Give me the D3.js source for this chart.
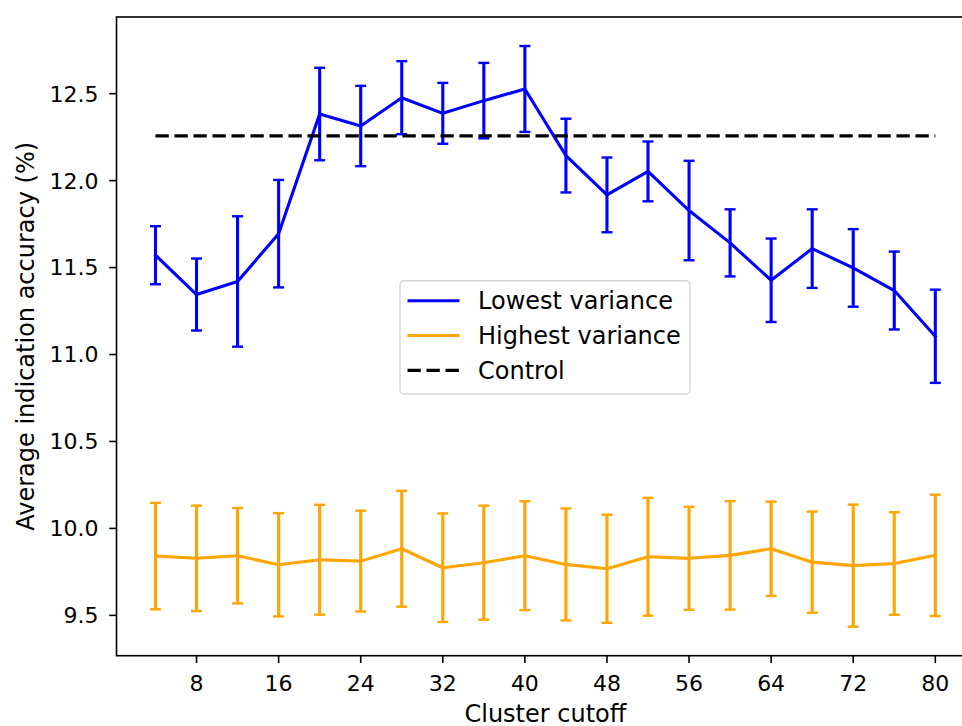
<!DOCTYPE html>
<html>
<head>
<meta charset="utf-8">
<script src="https://cdn.jsdelivr.net/npm/d3@7"></script>
<style>
  html, body { margin: 0; padding: 0; background: #fff; }
  svg { display: block; }
  text { font-family: "DejaVu Sans", sans-serif; fill: #000; }
</style>
</head>
<body>
<svg id="chart" width="962" height="726"></svg>
<script>
// ---- data ----
const cutoffs = [4, 8, 12, 16, 20, 24, 28, 32, 36, 40, 44, 48, 52, 56, 60, 64, 68, 72, 76, 80];
const lowestMean = [11.571, 11.345, 11.420, 11.695, 12.383, 12.314, 12.477, 12.387, 12.460, 12.527,
                    12.144, 11.918, 12.053, 11.828, 11.642, 11.427, 11.609, 11.498, 11.368, 11.105];
const lowestErr  = [0.167, 0.207, 0.375, 0.309, 0.266, 0.231, 0.210, 0.175, 0.217, 0.247,
                    0.212, 0.215, 0.172, 0.286, 0.193, 0.240, 0.226, 0.223, 0.224, 0.268];
const highestMean = [9.841, 9.828, 9.843, 9.791, 9.820, 9.812, 9.883, 9.774, 9.803, 9.843,
                     9.793, 9.768, 9.837, 9.828, 9.845, 9.883, 9.806, 9.786, 9.798, 9.845];
const highestErr  = [0.306, 0.303, 0.274, 0.297, 0.316, 0.290, 0.333, 0.312, 0.328, 0.313,
                     0.322, 0.311, 0.339, 0.296, 0.312, 0.271, 0.291, 0.351, 0.295, 0.349];
const controlValue = 12.257;
const xTicks = [8, 16, 24, 32, 40, 48, 56, 64, 72, 80];
const yTicks = [9.5, 10.0, 10.5, 11.0, 11.5, 12.0, 12.5];
const seriesNames = ["Lowest variance", "Highest variance", "Control"];

// ---- layout ----
const svg = d3.select("#chart");
const mLeft = 116.5, mRight = 974.3, mTop = 17, mBottom = 655.7;
const tickFont = 22, labelFont = 24;

const xExt = d3.extent(cutoffs);
const xPad = (xExt[1] - xExt[0]) * 0.05;
const x = d3.scaleLinear().domain([xExt[0] - xPad, xExt[1] + xPad]).range([mLeft, mRight]);

const allLo = lowestMean.map((m, i) => m - lowestErr[i]).concat(highestMean.map((m, i) => m - highestErr[i]));
const allHi = lowestMean.map((m, i) => m + lowestErr[i]).concat(highestMean.map((m, i) => m + highestErr[i]));
const yMin = d3.min(allLo), yMax = d3.max(allHi);
const yPad = (yMax - yMin) * 0.05;
const y = d3.scaleLinear().domain([yMin - yPad, yMax + yPad]).range([mBottom, mTop]);

const series = [
  { name: seriesNames[0], color: "#0000ff", mean: lowestMean, err: lowestErr },
  { name: seriesNames[1], color: "#ffa500", mean: highestMean, err: highestErr }
];

const lw = 3.1;
const capHalf = 5.5;
const line = d3.line().x(d => x(d[0])).y(d => y(d[1]));

series.forEach(s => {
  const g = svg.append("g");
  const pts = cutoffs.map((c, i) => [c, s.mean[i], s.err[i]]);
  g.selectAll("line.bar").data(pts).join("line")
    .attr("x1", d => x(d[0])).attr("x2", d => x(d[0]))
    .attr("y1", d => y(d[1] - d[2])).attr("y2", d => y(d[1] + d[2]))
    .attr("stroke", s.color).attr("stroke-width", lw);
  g.selectAll("line.capt").data(pts).join("line")
    .attr("x1", d => x(d[0]) - capHalf).attr("x2", d => x(d[0]) + capHalf)
    .attr("y1", d => y(d[1] + d[2])).attr("y2", d => y(d[1] + d[2]))
    .attr("stroke", s.color).attr("stroke-width", 2.4);
  g.selectAll("line.capb").data(pts).join("line")
    .attr("x1", d => x(d[0]) - capHalf).attr("x2", d => x(d[0]) + capHalf)
    .attr("y1", d => y(d[1] - d[2])).attr("y2", d => y(d[1] - d[2]))
    .attr("stroke", s.color).attr("stroke-width", 2.4);
  g.append("path").datum(pts).attr("d", line)
    .attr("fill", "none").attr("stroke", s.color).attr("stroke-width", lw)
    .attr("stroke-linejoin", "round").attr("stroke-linecap", "square");
});

// control
svg.append("line")
  .attr("x1", x(cutoffs[0])).attr("x2", x(cutoffs[cutoffs.length - 1]))
  .attr("y1", y(controlValue)).attr("y2", y(controlValue))
  .attr("stroke", "#000").attr("stroke-width", 3.3)
  .attr("stroke-dasharray", "13.3,5.7");

// spines
svg.append("rect").attr("x", mLeft).attr("y", mTop)
  .attr("width", mRight - mLeft).attr("height", mBottom - mTop)
  .attr("fill", "none").attr("stroke", "#000").attr("stroke-width", 1.6);

// x axis
const xAxis = svg.append("g");
xTicks.forEach(t => {
  xAxis.append("line").attr("x1", x(t)).attr("x2", x(t))
    .attr("y1", mBottom).attr("y2", mBottom + 7.3)
    .attr("stroke", "#000").attr("stroke-width", 1.6);
  xAxis.append("text").attr("x", x(t)).attr("y", mBottom + 35.3)
    .attr("text-anchor", "middle").attr("font-size", tickFont).text(d3.format("d")(t));
});
svg.append("text").attr("x", (mLeft + mRight) / 2).attr("y", 721.5)
  .attr("text-anchor", "middle").attr("font-size", labelFont).text("Cluster cutoff");

// y axis
const yAxis = svg.append("g");
yTicks.forEach(t => {
  yAxis.append("line").attr("x1", mLeft - 7.3).attr("x2", mLeft)
    .attr("y1", y(t)).attr("y2", y(t))
    .attr("stroke", "#000").attr("stroke-width", 1.6);
  yAxis.append("text").attr("x", 98.5).attr("y", y(t))
    .attr("dy", "0.36em")
    .attr("text-anchor", "end").attr("font-size", tickFont).text(d3.format(".1f")(t));
});
svg.append("text")
  .attr("transform", `translate(34,${(mTop + mBottom) / 2}) rotate(-90)`)
  .attr("text-anchor", "middle").attr("font-size", labelFont)
  .text("Average indication accuracy (%)");

// legend
const lg = svg.append("g");
lg.append("rect").attr("x", 400).attr("y", 280.7).attr("width", 290).attr("height", 113.3)
  .attr("rx", 4).attr("fill", "#fff").attr("fill-opacity", 0.8)
  .attr("stroke", "#d6d6d6").attr("stroke-width", 1.4);
const legendItems = [
  { name: seriesNames[0], color: "#0000ff", dash: null },
  { name: seriesNames[1], color: "#ffa500", dash: null },
  { name: seriesNames[2], color: "#000", dash: "13.3,5.7" }
];
legendItems.forEach((d, i) => {
  const cy = 300.7 + i * 34.8;
  const l = lg.append("line").attr("x1", 407.5).attr("x2", 459.5)
    .attr("y1", cy).attr("y2", cy).attr("stroke", d.color).attr("stroke-width", d.dash ? 3.3 : lw);
  if (d.dash) l.attr("stroke-dasharray", d.dash);
  lg.append("text").attr("x", 478).attr("y", cy).attr("dy", "0.36em")
    .attr("font-size", labelFont).text(d.name);
});
</script>
</body>
</html>
